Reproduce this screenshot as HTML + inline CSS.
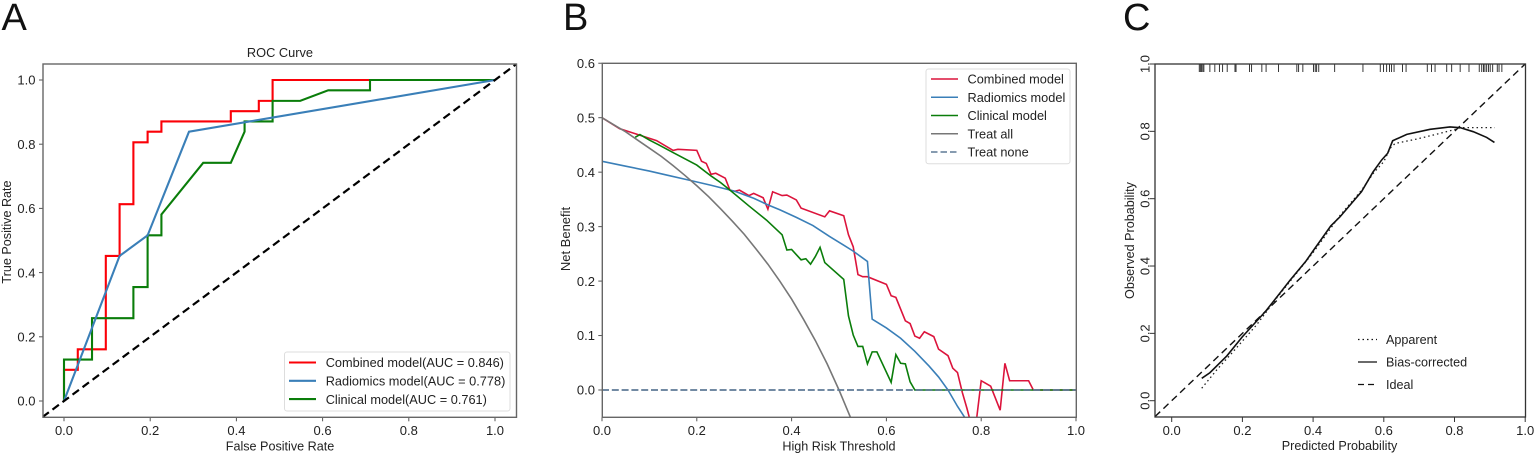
<!DOCTYPE html>
<html lang="en">
<head>
<meta charset="utf-8">
<title>ROC, decision and calibration curves</title>
<style>
html,body{margin:0;padding:0;background:#fff;}
body{width:1535px;height:454px;overflow:hidden;}
svg{display:block;filter:blur(0.35px);}
text{font-family:"Liberation Sans",sans-serif;fill:#222;}
</style>
</head>
<body>
<svg id="figure" xmlns="http://www.w3.org/2000/svg" width="1535" height="454" viewBox="0 0 1535 454"></svg>
<script>
// Panel A: ROC data
const rocTicks = [0, 0.2, 0.4, 0.6, 0.8, 1];
const rocCombinedFpr = [0,0,0.032,0.032,0.097,0.097,0.129,0.129,0.161,0.161,0.194,0.194,0.226,0.226,0.387,0.387,0.452,0.452,0.484,0.484,1];
const rocCombinedTpr = [0,0.097,0.097,0.161,0.161,0.452,0.452,0.613,0.613,0.806,0.806,0.839,0.839,0.871,0.871,0.903,0.903,0.935,0.935,1,1];
const rocRadiomicsFpr = [0,0.129,0.194,0.29,1];
const rocRadiomicsTpr = [0,0.452,0.516,0.839,1];
const rocClinicalFpr = [0,0,0.065,0.065,0.161,0.161,0.194,0.194,0.226,0.226,0.323,0.387,0.419,0.419,0.484,0.484,0.548,0.613,0.71,0.71,1];
const rocClinicalTpr = [0,0.129,0.129,0.258,0.258,0.355,0.355,0.516,0.516,0.581,0.742,0.742,0.839,0.871,0.871,0.935,0.935,0.968,0.968,1,1];
const rocLegend = ["Combined model(AUC = 0.846)","Radiomics model(AUC = 0.778)","Clinical model(AUC = 0.761)"];

// Panel B: decision curve data
const dcaXTicks = [0, 0.2, 0.4, 0.6, 0.8, 1];
const dcaYTicks = [0, 0.1, 0.2, 0.3, 0.4, 0.5, 0.6];
const dcaCombinedT = [0,0.037,0.076,0.115,0.15,0.16,0.2,0.21,0.22,0.23,0.24,0.26,0.27,0.28,0.29,0.31,0.32,0.34,0.35,0.36,0.38,0.39,0.41,0.42,0.47,0.48,0.51,0.52,0.53,0.54,0.55,0.56,0.6,0.61,0.62,0.64,0.65,0.66,0.67,0.68,0.7,0.71,0.73,0.74,0.75,0.76,0.77,0.78,0.79,0.8,0.82,0.84,0.85,0.86,0.9,0.91,1];
const dcaCombinedNb = [0.5,0.48,0.469,0.458,0.44,0.442,0.44,0.42,0.416,0.396,0.398,0.389,0.367,0.365,0.367,0.357,0.361,0.353,0.332,0.364,0.357,0.358,0.349,0.334,0.318,0.329,0.32,0.285,0.263,0.212,0.208,0.208,0.194,0.173,0.17,0.127,0.122,0.099,0.095,0.107,0.098,0.075,0.063,0.04,0.032,-0.004,-0.034,-0.067,-0.055,0.017,0.007,-0.037,0.049,0.017,0.017,0,0];
const dcaRadiomicsT = [0,0.05,0.1,0.14,0.18,0.23,0.28,0.32,0.35,0.375,0.41,0.445,0.48,0.51,0.53,0.56,0.57,0.6,0.63,0.66,0.69,0.71,0.73,0.75,0.765,0.775];
const dcaRadiomicsNb = [0.42,0.411,0.402,0.394,0.386,0.376,0.365,0.352,0.34,0.331,0.317,0.302,0.282,0.266,0.255,0.236,0.13,0.114,0.095,0.071,0.044,0.024,0,-0.03,-0.05,-0.07];
const dcaClinicalT = [0.07,0.08,0.1,0.12,0.15,0.2,0.23,0.25,0.27,0.31,0.347,0.38,0.39,0.4,0.42,0.43,0.44,0.45,0.46,0.47,0.51,0.52,0.53,0.54,0.55,0.56,0.57,0.58,0.61,0.62,0.63,0.64,0.65,0.66,1];
const dcaClinicalNb = [0.464,0.469,0.459,0.45,0.436,0.413,0.393,0.381,0.367,0.338,0.312,0.285,0.257,0.258,0.239,0.241,0.231,0.245,0.262,0.234,0.203,0.136,0.101,0.08,0.08,0.048,0.07,0.07,0.014,0.065,0.049,0.048,0.015,0,0];
const dcaTreatAllT = [0,0.025,0.05,0.075,0.1,0.125,0.15,0.175,0.2,0.225,0.25,0.275,0.3,0.325,0.35,0.375,0.4,0.425,0.45,0.475,0.5,0.524];
const dcaTreatAllNb = [0.5,0.487,0.474,0.459,0.444,0.429,0.412,0.394,0.375,0.355,0.333,0.31,0.286,0.259,0.231,0.2,0.167,0.13,0.091,0.048,0,-0.05];
const dcaTreatNoneT = [0,1];
const dcaTreatNoneNb = [0,0];
const dcaLegend = ["Combined model","Radiomics model","Clinical model","Treat all","Treat none"];

// Panel C: calibration data
const calTicks = [0, 0.2, 0.4, 0.6, 0.8, 1];
const calBiasX = [0.085,0.108,0.156,0.2,0.266,0.335,0.38,0.4,0.45,0.476,0.537,0.57,0.594,0.611,0.625,0.665,0.731,0.787,0.816,0.853,0.891,0.913];
const calBiasY = [0.0665,0.083,0.133,0.19,0.266,0.358,0.415,0.445,0.519,0.546,0.621,0.68,0.715,0.735,0.772,0.791,0.806,0.813,0.811,0.799,0.782,0.767];
const calApparentX = [0.085,0.127,0.174,0.24,0.297,0.4,0.476,0.537,0.57,0.6,0.618,0.632,0.693,0.759,0.806,0.816,0.914];
const calApparentY = [0.037,0.091,0.146,0.225,0.305,0.44,0.55,0.625,0.675,0.71,0.75,0.764,0.777,0.794,0.807,0.811,0.811];
const calIdealX = [-0.047,1];
const calIdealY = [-0.047,1];
const calRug = [0.078,0.081,0.084,0.088,0.091,0.108,0.122,0.135,0.144,0.157,0.179,0.182,0.22,0.226,0.255,0.267,0.302,0.354,0.359,0.371,0.401,0.406,0.41,0.416,0.461,0.541,0.59,0.599,0.608,0.616,0.622,0.629,0.653,0.663,0.723,0.735,0.745,0.778,0.792,0.816,0.841,0.87,0.877,0.882,0.886,0.891,0.896,0.901,0.908,0.921,0.926,0.934];
const calLegend = ["Apparent","Bias-corrected","Ideal"];

const NS = "http://www.w3.org/2000/svg";
const fig = document.getElementById("figure");

function make(tag, attrs, parent) {
  const el = document.createElementNS(NS, tag);
  for (const k in attrs) el.setAttribute(k, attrs[k]);
  (parent || fig).appendChild(el);
  return el;
}
function label(parent, x, y, str, size, anchor, rotate) {
  const attrs = {x: x, y: y, "font-size": size, "text-anchor": anchor || "middle"};
  if (rotate) attrs.transform = "rotate(-90 " + x + " " + y + ")";
  const el = make("text", attrs, parent);
  el.textContent = str;
  return el;
}
function tickText(v) { return v.toFixed(1); }
function pathOf(xs, ys, sx, sy) {
  return xs.map((v, i) => (i ? "L" : "M") + sx(v).toFixed(2) + " " + sy(ys[i]).toFixed(2)).join("");
}
function series(parent, xs, ys, sx, sy, color, width, dash, clip) {
  const attrs = {d: pathOf(xs, ys, sx, sy), fill: "none", stroke: color, "stroke-width": width, "stroke-linejoin": "miter"};
  if (dash) attrs["stroke-dasharray"] = dash;
  if (clip) attrs["clip-path"] = "url(#" + clip + ")";
  return make("path", attrs, parent);
}
function clipRect(id, x, y, w, h) {
  const c = make("clipPath", {id: id});
  make("rect", {x: x, y: y, width: w, height: h}, c);
}
function tickLine(parent, x1, y1, x2, y2, color, w) {
  return make("line", {x1: x1, y1: y1, x2: x2, y2: y2, stroke: color, "stroke-width": w}, parent);
}
function frame(parent, l, t, r, b, color, w) {
  return make("rect", {x: l, y: t, width: r - l, height: b - t, fill: "none", stroke: color, "stroke-width": w}, parent);
}

/* ---------- Panel A ---------- */
const pa = make("g", {});


const axA = {l: 43, r: 516.5, t: 64, b: 417.3};
const ax = v => 64 + 431 * v;
const ay = v => 401 - 321 * v;
clipRect("clipA", axA.l, axA.t, axA.r - axA.l, axA.b - axA.t);

const letterA = label(pa, 1.5, 30, "A", 38, "start");


letterA.style.fill = "#111";
const titleA = label(pa, 280, 57, "ROC Curve", 12.8);



rocTicks.forEach(v => {
  const a = tickLine(pa, ax(v), axA.b, ax(v), axA.b + 4, "#555", 1);
  
  
  const b = label(pa, ax(v), 435, tickText(v), 13);
  
  
  const c = tickLine(pa, axA.l - 4, ay(v), axA.l, ay(v), "#555", 1);
  
  
  const d = label(pa, 35.5, ay(v) + 4.7, tickText(v), 13, "end");
  
  
});
const xtA = label(pa, 280, 450.5, "False Positive Rate", 12.6);


const ytA = label(pa, 11, 232, "True Positive Rate", 12.6, "middle", true);



const rocRed = series(pa, rocCombinedFpr, rocCombinedTpr, ax, ay, "#fb0007", 2.1, null, "clipA");


const rocGreen = series(pa, rocClinicalFpr, rocClinicalTpr, ax, ay, "#0a7d0a", 2.1, null, "clipA");


const rocBlue = series(pa, rocRadiomicsFpr, rocRadiomicsTpr, ax, ay, "#3a7fb8", 2.1, null, "clipA");


const rocDiag = series(pa, [-0.05, 1.05], [-0.05, 1.05], ax, ay, "#000", 2.2, "8 4.5", "clipA");


const frA = frame(pa, axA.l, axA.t, axA.r, axA.b, "#666", 1.4);



const lgA = make("g", {}, pa);


make("rect", {x: 284.5, y: 352, width: 225.5, height: 59, rx: 2.5, fill: "#fff", stroke: "#ddd", "stroke-width": 1}, lgA);
const rocColors = ["#fb0007", "#3a7fb8", "#0a7d0a"];
rocLegend.forEach((s, i) => {
  const y = 362.5 + i * 18.3;
  const sw = tickLine(lgA, 289, y, 316, y, rocColors[i], 2.1);
  
  
  const t = label(lgA, 325.7, y + 4.7, s, 12.75, "start");
  
  
});

/* ---------- Panel B ---------- */
const pb = make("g", {});


const axB = {l: 602.3, r: 1076.3, t: 63.3, b: 417.3};
const bx = v => 602 + 474 * v;
const by = v => 390 - 544.6 * v;
clipRect("clipB", axB.l, axB.t, axB.r - axB.l, axB.b - axB.t);

const letterB = label(pb, 563, 30, "B", 38, "start");


letterB.style.fill = "#111";

dcaXTicks.forEach(v => {
  const a = tickLine(pb, bx(v), axB.b, bx(v), axB.b + 4, "#555", 1);
  
  
  const b = label(pb, bx(v), 435, tickText(v), 13);
  
  
});
dcaYTicks.forEach(v => {
  const c = tickLine(pb, axB.l - 4, by(v), axB.l, by(v), "#555", 1);
  
  
  const d = label(pb, 595, by(v) + 4.7, tickText(v), 13, "end");
  
  
});
const xtB = label(pb, 839, 450.5, "High Risk Threshold", 12.6);


const ytB = label(pb, 570, 239, "Net Benefit", 13, "middle", true);



const dRed = series(pb, dcaCombinedT, dcaCombinedNb, bx, by, "#dc143c", 1.6, null, "clipB");


const dBlue = series(pb, dcaRadiomicsT, dcaRadiomicsNb, bx, by, "#3a7fb8", 1.6, null, "clipB");


const dGreen = series(pb, dcaClinicalT, dcaClinicalNb, bx, by, "#0a7d0a", 1.6, null, "clipB");


const dAll = series(pb, dcaTreatAllT, dcaTreatAllNb, bx, by, "#777", 1.6, null, "clipB");


const dNone = series(pb, dcaTreatNoneT, dcaTreatNoneNb, bx, by, "#5f7a96", 1.8, "7 2.8", "clipB");


const frB = frame(pb, axB.l, axB.t, axB.r, axB.b, "#666", 1.4);



const lgB = make("g", {}, pb);


make("rect", {x: 926, y: 69, width: 144, height: 94.7, rx: 2.5, fill: "#fff", stroke: "#ddd", "stroke-width": 1}, lgB);
const dcaColors = ["#dc143c", "#3a7fb8", "#0a7d0a", "#777", "#5f7a96"];
dcaLegend.forEach((s, i) => {
  const y = 79 + i * 18.25;
  const sw = tickLine(lgB, 931, y, 958, y, dcaColors[i], 1.6);
  if (i === 4) sw.setAttribute("stroke-dasharray", "6.5 3");
  
  
  const t = label(lgB, 967.5, y + 4.7, s, 12.75, "start");
  
  
});

/* ---------- Panel C ---------- */
const pc = make("g", {});


const axC = {l: 1155, r: 1525.5, t: 64, b: 417};
const cx = v => 1171.7 + 353.5 * v;
const cy = v => 400.7 - 336.7 * v;
clipRect("clipC", axC.l, axC.t, axC.r - axC.l, axC.b - axC.t);

const letterC = label(pc, 1123, 30, "C", 38, "start");


letterC.style.fill = "#111";

calTicks.forEach(v => {
  const a = tickLine(pc, cx(v), axC.b, cx(v), axC.b + 5, "#333", 1);
  
  
  const b = label(pc, cx(v), 435, tickText(v), 13);
  
  
  const c = tickLine(pc, axC.l - 5, cy(v), axC.l, cy(v), "#333", 1);
  
  
  const d = label(pc, 1149.5, cy(v), tickText(v), 13, "middle", true);
  
  
});
const xtC = label(pc, 1339.5, 450, "Predicted Probability", 12.6);


const ytC = label(pc, 1134, 240.5, "Observed Probability", 12.6, "middle", true);



calRug.forEach(v => {
  const r = tickLine(pc, cx(v), axC.t, cx(v), axC.t + 8, "#222", 0.9);
  
  
});
const cIdeal = series(pc, calIdealX, calIdealY, cx, cy, "#111", 1.4, "7 4.5", "clipC");


const cApp = series(pc, calApparentX, calApparentY, cx, cy, "#222", 1.3, "1.5 3", "clipC");


const cBias = series(pc, calBiasX, calBiasY, cx, cy, "#111", 1.6, null, "clipC");


const frC = frame(pc, axC.l, axC.t, axC.r, axC.b, "#333", 1.3);



const lgC = make("g", {}, pc);


const calDashes = ["1.5 3", null, "6 4"];
calLegend.forEach((s, i) => {
  const y = 339.5 + i * 22.5;
  const sw = tickLine(lgC, 1358, y, 1377, y, "#111", 1.3);
  if (calDashes[i]) sw.setAttribute("stroke-dasharray", calDashes[i]);
  
  
  const t = label(lgC, 1386, y + 4.5, s, 12.6, "start");
  
  
});
</script>
</body>
</html>
